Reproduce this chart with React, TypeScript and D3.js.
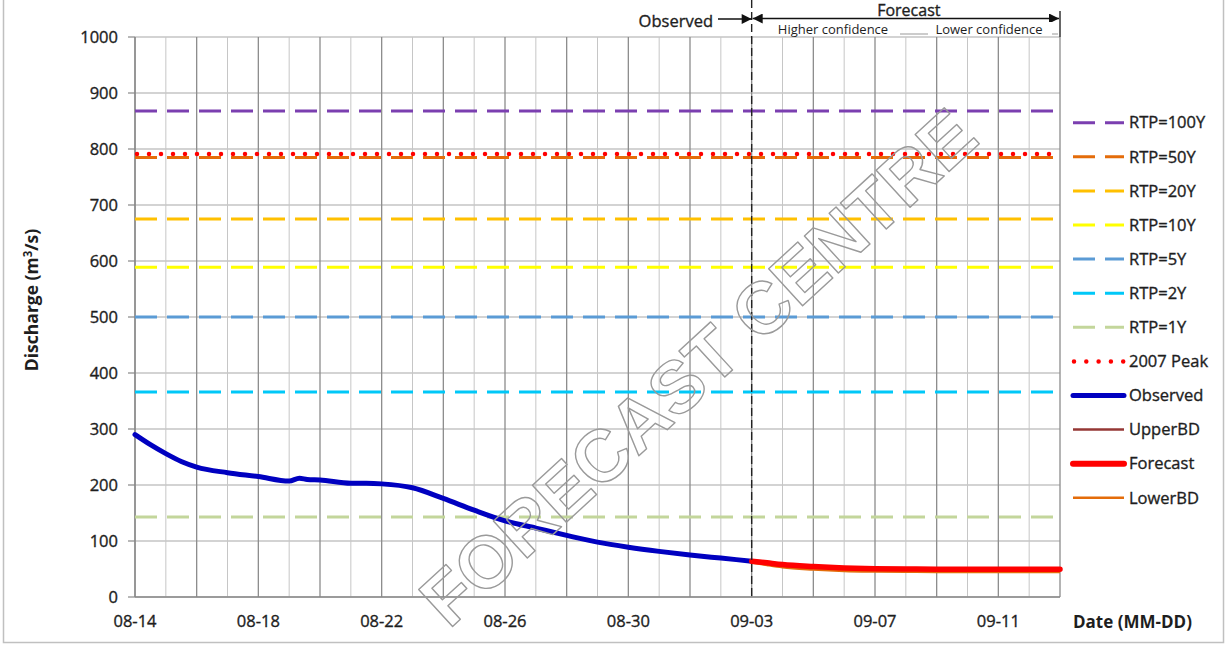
import React from "react";
import * as d3 from "d3";

// time stamps are "MM-DD HH"
const parseTime = d3.utcParse("%m-%d %H");

const obsTime = [
  "08-14 00", "08-14 12", "08-15 00", "08-15 12", "08-16 00", "08-17 00", "08-18 00",
  "08-19 00", "08-19 08", "08-19 14", "08-20 00", "08-21 00", "08-21 12", "08-22 00",
  "08-23 00", "08-24 00", "08-25 00", "08-26 00", "08-27 00", "08-28 00", "08-29 00",
  "08-30 00", "08-31 00", "09-01 00", "09-02 00", "09-03 00",
];
const obsValue = [
  290, 272, 256, 242, 232, 222, 215,
  207, 212, 210, 209, 203, 203, 202,
  195, 176, 155, 136, 123, 110, 98,
  89, 81.5, 75, 69.5, 64,
];

const fcTime = [
  "09-03 00", "09-03 12", "09-04 00", "09-05 00", "09-06 00", "09-07 00",
  "09-08 00", "09-09 00", "09-10 00", "09-11 00", "09-12 00", "09-13 00",
];
const fcValue = [64, 61, 58, 54.5, 52, 50.5, 50, 49.5, 49.5, 49.5, 49.5, 49.5];
const upperValue = [65, 62, 59, 55.5, 53, 51.5, 51, 50.5, 50.5, 50.5, 50.5, 50.5];
const lowerValue = [62.5, 58, 54, 50, 47.5, 46.5, 46, 45.5, 45.5, 45.5, 45.5, 45.5];

const rtpLabels = ["RTP=100Y", "RTP=50Y", "RTP=20Y", "RTP=10Y", "RTP=5Y", "RTP=2Y", "RTP=1Y"];
const rtpValues = [868, 785, 675, 589, 500, 366, 143];
const rtpColors = ["#7b3fb0", "#e46c0a", "#ffc000", "#ffff00", "#5b9bd5", "#00c8f8", "#c3d69b"];
const peakLabel = "2007 Peak";
const peakValue = 791;

const xTickLabels = ["08-14", "08-18", "08-22", "08-26", "08-30", "09-03", "09-07", "09-11"];
const yTicks = [0, 100, 200, 300, 400, 500, 600, 700, 800, 900, 1000];
const dateStart = "08-14 00";
const dateEnd = "09-13 00";
const forecastStart = "09-03 00";

const W = 1230;
const H = 645;
const left = 135, right = 1060, top = 37, bottom = 597;
const FONT = "'Open Sans', sans-serif";
const TXT = "#1e1e1e";
// slight outline to thicken glyphs like the reference
const heavy = { stroke: TXT, strokeWidth: 0.35 };

export default function App() {
  const t0 = parseTime(dateStart)!;
  const t1 = parseTime(dateEnd)!;
  const tf = parseTime(forecastStart)!;

  const x = d3.scaleUtc().domain([t0, t1]).range([left, right]);
  const y = d3.scaleLinear().domain([0, 1000]).range([bottom, top]);

  const days = d3.utcDay.range(t0, d3.utcDay.offset(t1, 1));

  const line = d3
    .line<[Date, number]>()
    .x((d) => x(d[0]))
    .y((d) => y(d[1]))
    .curve(d3.curveMonotoneX);

  const obs = obsTime.map((s, i) => [parseTime(s)!, obsValue[i]] as [Date, number]);
  const fc = fcTime.map((s, i) => [parseTime(s)!, fcValue[i]] as [Date, number]);
  const up = fcTime.map((s, i) => [parseTime(s)!, upperValue[i]] as [Date, number]);
  const lo = fcTime.map((s, i) => [parseTime(s)!, lowerValue[i]] as [Date, number]);

  const xf = x(tf);
  const xe = x(t1);

  // legend rows
  const legY0 = 122.7;
  const legStep = 34.1;
  const legX0 = 1073;
  const legX1 = 1124;

  return (
    <svg
      width={W}
      height={H}
      style={{ position: "absolute", left: 0, top: 0, background: "#fff" }}
      fontFamily={FONT}
    >
      <defs>
        <marker id="arr" viewBox="0 0 10 10" refX="10" refY="5" markerWidth="11" markerHeight="10"
          markerUnits="userSpaceOnUse" orient="auto-start-reverse">
          <path d="M0,0 L10,5 L0,10 z" fill="#111" />
        </marker>
      </defs>

      {/* outer frame */}
      <rect x={3.5} y={-5} width={1220} height={647.5} fill="none" stroke="#c0c0c0" strokeWidth={1.5} />

      {/* horizontal grid */}
      {yTicks.map((v) => (
        <line key={"h" + v} x1={left} x2={right} y1={y(v)} y2={y(v)} stroke="#a8a8a8" strokeWidth={1.2} />
      ))}
      {/* vertical grid, major every 2 days */}
      {days.map((d, i) => (
        <line key={"v" + i} x1={x(d)} x2={x(d)} y1={top} y2={bottom}
          stroke={i % 2 === 0 ? "#8c8c8c" : "#c6c6c6"} strokeWidth={i % 2 === 0 ? 1.3 : 1} />
      ))}

      {/* axes */}
      <line x1={left} x2={left} y1={top} y2={bottom} stroke="#888" strokeWidth={1.3} />
      <line x1={left} x2={right} y1={bottom} y2={bottom} stroke="#888" strokeWidth={1.3} />
      {yTicks.map((v) => (
        <g key={"yt" + v}>
          <line x1={left - 7} x2={left} y1={y(v)} y2={y(v)} stroke="#888" strokeWidth={1.2} />
          <text x={118} y={y(v)} dy="0.35em" textAnchor="end" fontSize={16.5} fill={TXT} {...heavy}>{v}</text>
        </g>
      ))}
      {xTickLabels.map((s) => (
        <text key={s} x={x(parseTime(s + " 00")!)} y={627} textAnchor="middle" fontSize={16.5} fill={TXT} {...heavy}>{s}</text>
      ))}
      <text transform="translate(38,300) rotate(-90)" textAnchor="middle" fontSize={17.5} fontWeight="bold" fill={TXT}>
        Discharge (m<tspan fontSize={11.5} dy={-6}>3</tspan><tspan dy={6}>/s)</tspan>
      </text>
      <text x={1073} y={628} fontSize={17} fontWeight="bold" fill={TXT}>Date (MM-DD)</text>

      {/* return period lines */}
      {rtpValues.map((v, i) => (
        <line key={"r" + i} x1={left} x2={right} y1={y(v)} y2={y(v)} stroke={rtpColors[i]}
          strokeWidth={3} strokeDasharray="22 10" />
      ))}
      <line x1={left + 2} x2={right} y1={y(peakValue)} y2={y(peakValue)} stroke="#ff0000"
        strokeWidth={4.5} strokeDasharray="0 12" strokeLinecap="round" />

      {/* series */}
      <path d={line(obs)!} fill="none" stroke="#0000c0" strokeWidth={5} strokeLinejoin="round" strokeLinecap="round" />
      <path d={line(lo)!} fill="none" stroke="#e46c0a" strokeWidth={3.5} />
      <path d={line(up)!} fill="none" stroke="#953735" strokeWidth={2.5} />
      <path d={line(fc)!} fill="none" stroke="#ff0000" strokeWidth={5.5} strokeLinecap="round" />

      {/* forecast divider and annotations */}
      <line x1={xf} x2={xf} y1={0} y2={bottom} stroke="#222" strokeWidth={1.4} strokeDasharray="8 4" />
      <line x1={xe} x2={xe} y1={11} y2={top} stroke="#333" strokeWidth={1.5} />
      <line x1={718} x2={xf} y1={19} y2={19} stroke="#111" strokeWidth={1.5} markerEnd="url(#arr)" />
      <line x1={xf + 1} x2={xe - 1} y1={18.5} y2={18.5} stroke="#111" strokeWidth={1.5}
        markerStart="url(#arr)" markerEnd="url(#arr)" />
      <text x={713} y={27} textAnchor="end" fontSize={16.5} fill={TXT} {...heavy}>Observed</text>
      <text x={(xf + xe) / 2 + 3} y={16} textAnchor="middle" fontSize={16} fill={TXT} {...heavy}>Forecast</text>
      <line x1={770} x2={xe - 2} y1={34} y2={34} stroke="#999" strokeWidth={1} />
      <rect x={770} y={22} width={130} height={14} fill="#fff" />
      <rect x={928} y={22} width={124} height={14} fill="#fff" />
      <text x={833} y={34} textAnchor="middle" fontSize={13} fill={TXT}>Higher confidence</text>
      <text x={989} y={34} textAnchor="middle" fontSize={13} fill={TXT}>Lower confidence</text>

      {/* legend */}
      {rtpLabels.map((s, i) => (
        <g key={s}>
          <line x1={legX0} x2={legX1} y1={legY0 + i * legStep} y2={legY0 + i * legStep}
            stroke={rtpColors[i]} strokeWidth={3} strokeDasharray="22 10" />
          <text x={1129} y={legY0 + i * legStep} dy="0.35em" fontSize={16.5} fill={TXT} {...heavy}>{s}</text>
        </g>
      ))}
      {[
        { label: peakLabel, color: "#ff0000", w: 4.5, dash: "0 12.3", cap: "round" },
        { label: "Observed", color: "#0000c0", w: 5, dash: undefined, cap: "round" },
        { label: "UpperBD", color: "#953735", w: 2.5, dash: undefined, cap: "butt" },
        { label: "Forecast", color: "#ff0000", w: 6, dash: undefined, cap: "round" },
        { label: "LowerBD", color: "#e46c0a", w: 2.5, dash: undefined, cap: "butt" },
      ].map((e, j) => {
        const yy = legY0 + (rtpLabels.length + j) * legStep;
        return (
          <g key={e.label}>
            <line x1={legX0 + (e.dash ? 1 : 0)} x2={legX1} y1={yy} y2={yy} stroke={e.color} strokeWidth={e.w}
              strokeDasharray={e.dash} strokeLinecap={e.cap as any} />
            <text x={1129} y={yy} dy="0.35em" fontSize={16.5} fill={TXT} {...heavy}>{e.label}</text>
          </g>
        );
      })}

      {/* watermark */}
      <text transform="translate(698,367) rotate(-42.5)" textAnchor="middle" dominantBaseline="central"
        fontFamily="'Liberation Sans', Arial, sans-serif" fontWeight="bold" fontSize={73} fill="none"
        stroke="#9a9a9a" strokeWidth={1.4} strokeLinejoin="round">
        FORECAST CENTRE
      </text>
    </svg>
  );
}
